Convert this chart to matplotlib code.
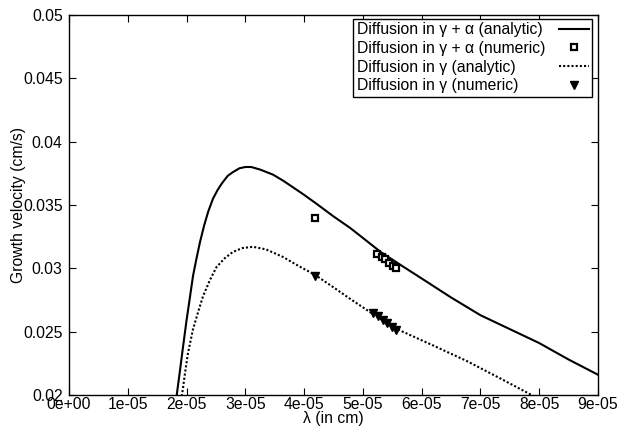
import matplotlib
matplotlib.use("Agg")
import matplotlib.pyplot as plt
import numpy as np

plt.rcParams["font.family"] = ["Liberation Sans", "DejaVu Sans"]

# growth velocity vs lambda
solid_x = [1.83e-05, 1.89e-05, 1.94e-05, 2.00e-05, 2.06e-05, 2.11e-05, 2.17e-05, 2.23e-05,
           2.30e-05, 2.37e-05, 2.45e-05, 2.53e-05, 2.60e-05, 2.70e-05, 2.79e-05, 2.90e-05,
           3.00e-05, 3.10e-05, 3.25e-05, 3.47e-05, 3.65e-05, 3.81e-05, 4.00e-05, 4.21e-05,
           4.50e-05, 4.78e-05, 5.00e-05, 5.30e-05, 5.63e-05, 6.00e-05, 6.50e-05, 7.00e-05,
           7.50e-05, 8.00e-05, 8.50e-05, 9.00e-05]
solid_y = [0.0199, 0.0220, 0.0238, 0.0259, 0.0278, 0.0294, 0.0308, 0.0321,
           0.0334, 0.0345, 0.0355, 0.0362, 0.0367, 0.0373, 0.0376, 0.0379,
           0.0380, 0.0380, 0.0378, 0.0374, 0.0369, 0.0364, 0.0358, 0.0351,
           0.0341, 0.0332, 0.0324, 0.0313, 0.0303, 0.0292, 0.0277, 0.0263,
           0.0252, 0.0241, 0.0228, 0.0216]

dotted_x = [1.92e-05, 1.97e-05, 2.02e-05, 2.11e-05, 2.20e-05, 2.28e-05, 2.40e-05, 2.51e-05,
            2.65e-05, 2.79e-05, 2.95e-05, 3.13e-05, 3.35e-05, 3.64e-05, 3.90e-05, 4.18e-05,
            4.50e-05, 4.78e-05, 5.20e-05, 5.63e-05, 6.20e-05, 6.76e-05, 7.30e-05, 7.87e-05]
dotted_y = [0.0199, 0.0216, 0.0232, 0.0252, 0.0266, 0.0278, 0.0291, 0.0301,
            0.0308, 0.0313, 0.0316, 0.0317, 0.0315, 0.0309, 0.0302, 0.0295,
            0.0285, 0.0276, 0.0263, 0.0251, 0.0239, 0.0227, 0.0214, 0.0200]

sq_x = [4.18e-05, 5.24e-05, 5.32e-05, 5.37e-05, 5.45e-05, 5.52e-05, 5.57e-05]
sq_y = [0.0340, 0.0311, 0.0309, 0.0307, 0.0304, 0.0302, 0.0300]

tri_x = [4.18e-05, 5.18e-05, 5.26e-05, 5.35e-05, 5.41e-05, 5.49e-05, 5.57e-05]
tri_y = [0.0294, 0.0265, 0.0262, 0.0259, 0.0257, 0.0254, 0.0251]

x_ticks = np.arange(0, 9.5e-05, 1e-05)
x_labels = ["0e+00", "1e-05", "2e-05", "3e-05", "4e-05", "5e-05", "6e-05", "7e-05", "8e-05", "9e-05"]
y_ticks = [0.02, 0.025, 0.03, 0.035, 0.04, 0.045, 0.05]
y_labels = ["0.02", "0.025", "0.03", "0.035", "0.04", "0.045", "0.05"]

FS = 11.3

fig = plt.figure(figsize=(6.19, 4.29), dpi=100)
ax = fig.add_axes([69 / 619, 1 - 395 / 429, (598 - 69) / 619, (395 - 15) / 429])

ax.plot(solid_x, solid_y, color="black", lw=1.5, label="Diffusion in γ + α (analytic)")
ax.plot(sq_x, sq_y, ls="none", marker="s", ms=5, mfc="white", mec="black", mew=1.6,
        label="Diffusion in γ + α (numeric)")
ax.plot(dotted_x, dotted_y, color="black", lw=1.5, ls=(0, (1, 1)), label="Diffusion in γ (analytic)")
ax.plot(tri_x, tri_y, ls="none", marker="v", ms=6, color="black", label="Diffusion in γ (numeric)")

ax.set_xlim(0, 9e-05)
ax.set_ylim(0.02, 0.05)
ax.set_xticks(x_ticks, x_labels)
ax.set_yticks(y_ticks, y_labels)
ax.tick_params(direction="in", top=True, right=True, length=5, width=0.8, labelsize=FS)
ax.tick_params(axis="x", pad=1.5)
ax.tick_params(axis="y", pad=4.5)
for s in ax.spines.values():
    s.set_linewidth(1.0)

ax.set_xlabel("λ (in cm)", fontsize=FS, labelpad=-1)
ax.set_ylabel("Growth velocity (cm/s)", fontsize=FS, labelpad=-2)

leg = ax.legend(loc="upper right", bbox_to_anchor=((592 - 69) / 529, 1 - 4 / 380),
                fontsize=FS, markerfirst=False, fancybox=False, framealpha=1,
                edgecolor="black", borderpad=0.2, labelspacing=0.24,
                handlelength=1.9, handletextpad=0.9, borderaxespad=0)
leg.get_frame().set_linewidth(1.0)

# gnuplot keeps the key text left-aligned with samples in one column on the right
fig.canvas.draw()
renderer = fig.canvas.get_renderer()
column = leg._legend_handle_box.get_children()[0]
column.align = "left"
widths = [t.get_window_extent(renderer).width for t in leg.get_texts()]
for row, w in zip(column.get_children(), widths):
    row.sep = leg.handletextpad * FS + (max(widths) - w) * 72 / fig.dpi

fig.savefig("out.png", dpi=100)
